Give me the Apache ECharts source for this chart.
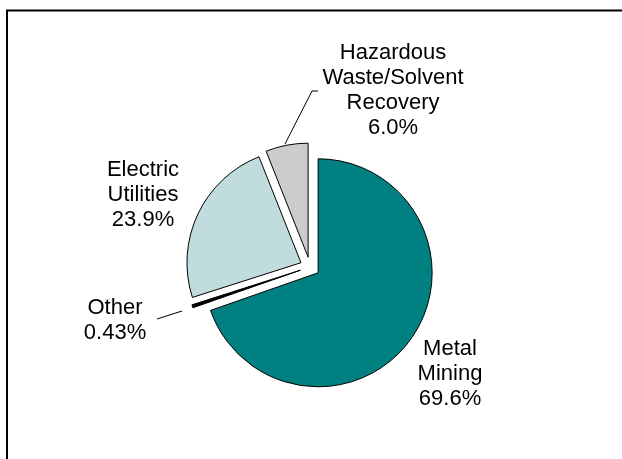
<!DOCTYPE html>
<html>
<head>
<meta charset="utf-8">
<script src="https://cdn.jsdelivr.net/npm/echarts@6/dist/echarts.min.js"></script>
<style>
  html, body { margin: 0; padding: 0; background: #fff; }
  #chart { width: 622px; height: 459px; }
</style>
</head>
<body>
<div id="chart"></div>
<script>
const categories = ['Metal\nMining', 'Other', 'Electric\nUtilities', 'Hazardous\nWaste/Solvent\nRecovery'];
const shares = [69.6, 0.43, 23.9, 6.0];
const sliceColors = ['#008080', '#000000', '#c0dcdc', '#cccccc'];

const chart = echarts.init(document.getElementById('chart'), null, { renderer: 'canvas' });

// label placement (layout only)
const labelSpots = {
  0: { x: 450, y: 374 },
  1: { x: 115, y: 320, line: [[182, 311], [157, 319]] },
  2: { x: 143, y: 195 },
  3: { x: 393, y: 90, line: [[285, 144], [312, 91], [318, 91]] }
};

const fmtPct = v => v.toFixed(v < 1 ? 2 : 1) + '%';

const graphics = [{
  type: 'rect',
  shape: { x: 7, y: 10.5, width: 700, height: 600 },
  style: { fill: 'none', stroke: '#000', lineWidth: 2 },
  silent: true
}];
categories.forEach((name, i) => {
  const s = labelSpots[i];
  graphics.push({
    type: 'text',
    silent: true,
    z: 10,
    style: {
      text: name + '\n' + fmtPct(shares[i]),
      x: s.x, y: s.y,
      fill: '#000',
      fontFamily: 'Liberation Sans, Arial, sans-serif',
      fontSize: 22,
      lineHeight: 25,
      align: 'center',
      verticalAlign: 'middle'
    }
  });
  if (s.line) {
    graphics.push({
      type: 'polyline',
      silent: true,
      z: 10,
      shape: { points: s.line },
      style: { stroke: '#000', lineWidth: 1, fill: 'none' }
    });
  }
});

const pieData = categories.map((name, i) => ({
  name: name,
  value: shares[i],
  selected: true,
  itemStyle: { color: sliceColors[i], borderColor: '#000', borderWidth: 1 }
}));

chart.setOption({
  animation: false,
  backgroundColor: '#ffffff',
  graphic: graphics,
  series: [{
    type: 'pie',
    center: [310, 267],
    radius: [0, 114],
    startAngle: 90,
    clockwise: true,
    selectedMode: 'multiple',
    selectedOffset: 10,
    data: pieData,
    select: { itemStyle: { borderColor: '#000', borderWidth: 1 } },
    emphasis: { disabled: true },
    label: { show: false },
    labelLine: { show: false }
  }]
});
</script>
</body>
</html>
